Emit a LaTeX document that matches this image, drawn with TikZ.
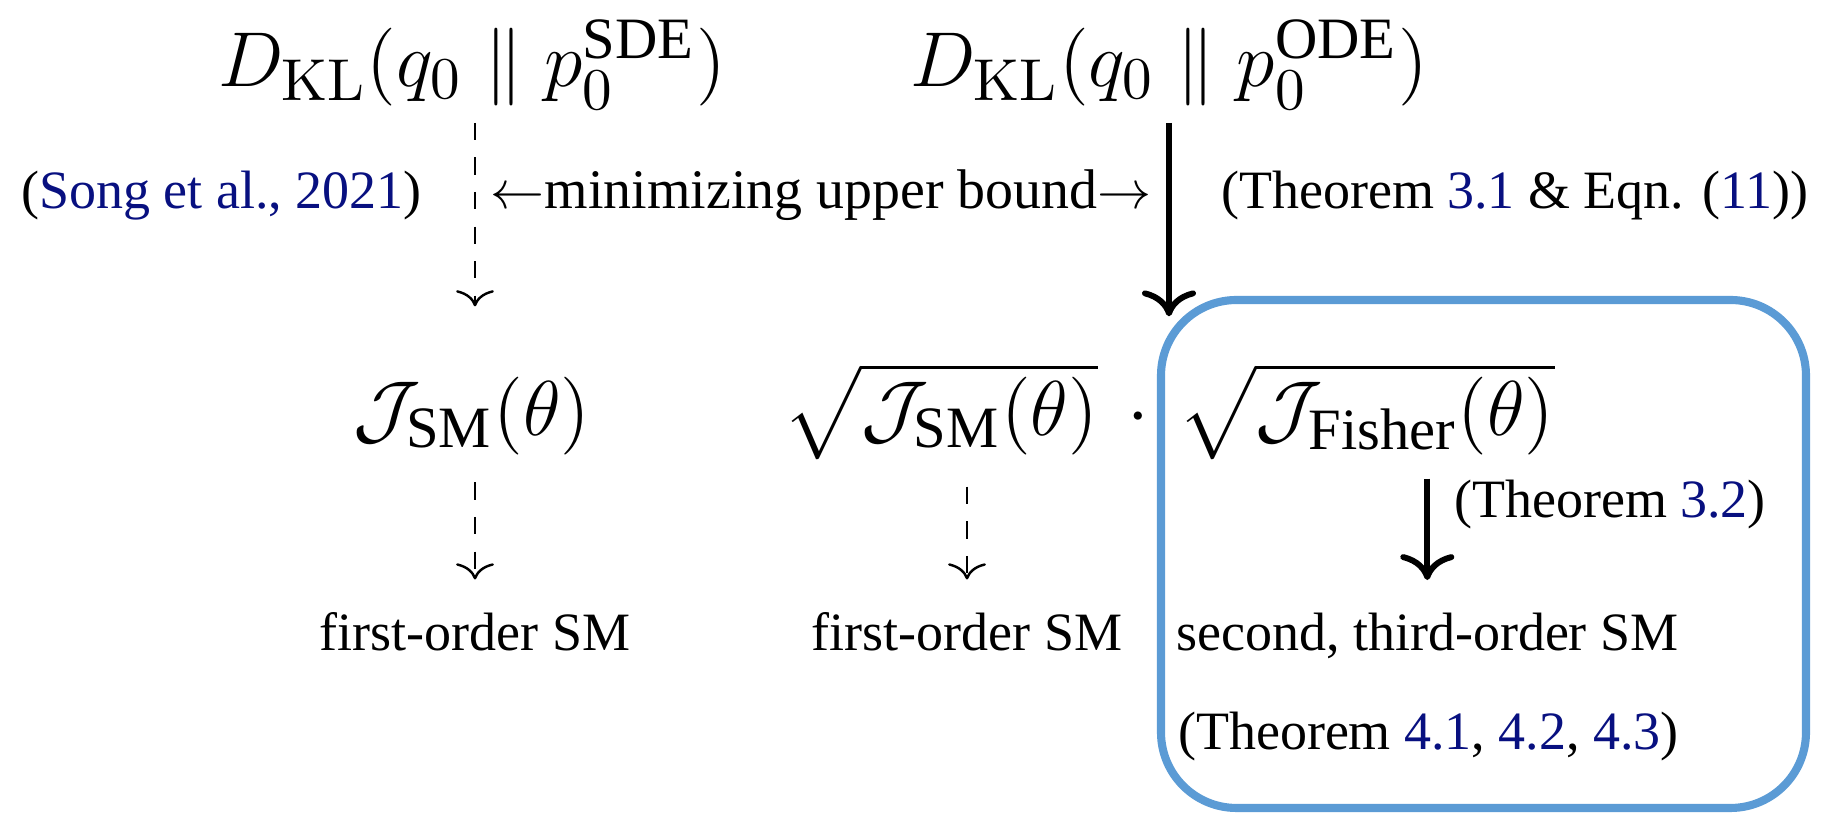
\documentclass[tikz,border=0pt]{standalone}
\usepackage[no-math]{fontspec}
\setmainfont{Liberation Serif}
\usepackage{amsmath}
\usetikzlibrary{arrows.meta}
\definecolor{refblue}{RGB}{8,16,128}
\definecolor{boxblue}{RGB}{91,155,213}
\begin{document}
\begin{tikzpicture}[x=0.185185pt,y=-0.185185pt,
  mathl/.style={inner sep=0pt, anchor=base, font=\fontsize{15.5}{18}\selectfont},
  txt/.style={inner sep=0pt, anchor=base, font=\fontsize{10}{12}\selectfont},
  dasharr/.style={line width=0.45pt, dash pattern=on 3.2pt off 3.2pt,
    -{Computer Modern Rightarrow[length=3pt,width=7pt,line width=0.45pt]}},
  solidarr/.style={line width=1.1pt,
    -{Computer Modern Rightarrow[length=4.8pt,width=10pt,line width=1.1pt]}}]
\useasboundingbox (0,0) rectangle (1824,814);
% top row
\node[mathl] (kls) at (472,87) {$D_{\mathrm{KL}}(q_0 \parallel p_0^{\text{SDE}})$};
\node[mathl] (klo) at (1169,87) {$D_{\mathrm{KL}}(q_0 \parallel p_0^{\text{ODE}})$};
% row 2
\node[txt, anchor=base east] (song) at (423,209) {(\textcolor{refblue}{Song et al., 2021})};
\node[txt, font=\fontsize{10.35}{12}\selectfont] (minub) at (821,209) {$\leftarrow$minimizing upper bound$\rightarrow$};
\node[txt, anchor=base west] (thm31) at (1220,209) {(Theorem \textcolor{refblue}{3.1} \& Eqn. (\textcolor{refblue}{11}))};
% row 3
\node[mathl] (jsm) at (472,436) {$\mathcal{J}_{\text{SM}}(\theta)$};
\node[mathl, anchor=base east] (sqsm) at (1099,436) {$\sqrt{\mathcal{J}_{\text{SM}}(\theta)}$};
\node[mathl] (cdot) at (1138,436) {$\cdot$};
\node[mathl, anchor=base west] (fisher) at (1177,436) {$\sqrt{\mathcal{J}_{\text{Fisher}}(\theta)}$};
% row 4/5
\node[txt] (fo1) at (475,651) {first-order SM};
\node[txt] (fo2) at (967,651) {first-order SM};
\node[txt, anchor=base west] (sec) at (1175,651) {second, third-order SM};
\node[txt, anchor=base west] (thm4) at (1177,750) {(Theorem \textcolor{refblue}{4.1}, \textcolor{refblue}{4.2}, \textcolor{refblue}{4.3})};
\node[txt, anchor=base west] (thm32) at (1453,518) {(Theorem \textcolor{refblue}{3.2})};
% arrows
\draw[dasharr, shorten <=2.2pt, shorten >=13pt] (kls.south -| fo1) -- (jsm.north -| fo1);
\draw[solidarr, shorten <=2.2pt, shorten >=8.5pt] (klo) -- (klo |- fisher.north);
\draw[dasharr, shorten <=4.8pt, shorten >=6pt] (jsm.south -| fo1) -- (fo1);
\draw[dasharr, shorten <=4.8pt, shorten >=6pt] (fo2 |- sqsm.south) -- (fo2);
\draw[solidarr, shorten <=3.3pt, shorten >=6pt] (sec.north |- fisher.south) -- (sec.north);
% highlight box
\draw[boxblue, line width=1.5pt, rounded corners=14pt] (1161,300) rectangle (1806,808);
\end{tikzpicture}
\end{document}
